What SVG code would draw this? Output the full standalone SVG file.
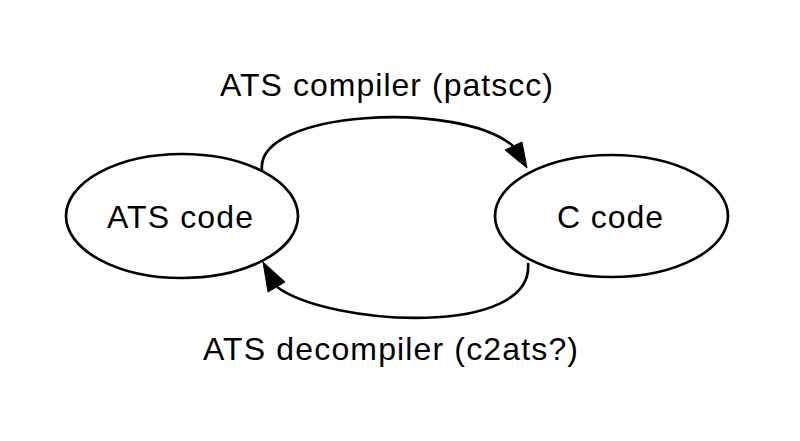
<svg xmlns="http://www.w3.org/2000/svg" width="800" height="441" viewBox="0 0 800 441">
<style>
.n{fill:#fff;stroke:#000;stroke-width:2.7}
.e{fill:none;stroke:#000;stroke-width:2.7}
.ah{fill:#000;stroke:#000;stroke-width:1}
text{font-family:"Liberation Sans",Arial,sans-serif;font-size:32px;fill:#000;text-anchor:middle}
</style>
<rect width="800" height="441" fill="#fff"/>
<g id="edges">
<g id="e1">
<path class="e" d="M262,170 C255,110 460,100 513,146"/>
<polygon class="ah" points="527,168 505,150 522,142"/>
<text x="386.5" y="96" textLength="333" lengthAdjust="spacing">ATS compiler (patscc)</text>
</g>
<g id="e2">
<path class="e" d="M528,263 C535,338 330,326 277,287"/>
<polygon class="ah" points="263,262 268,292 285,282"/>
<text x="390.5" y="360" textLength="375" lengthAdjust="spacing">ATS decompiler (c2ats?)</text>
</g>
</g>
<g id="ats">
<ellipse class="n" cx="182" cy="216" rx="116" ry="62"/>
<text x="180" y="228" textLength="146" lengthAdjust="spacing">ATS code</text>
</g>
<g id="c">
<ellipse class="n" cx="611.5" cy="216" rx="116.5" ry="61"/>
<text x="610" y="228" textLength="106" lengthAdjust="spacing">C code</text>
</g>
</svg>
